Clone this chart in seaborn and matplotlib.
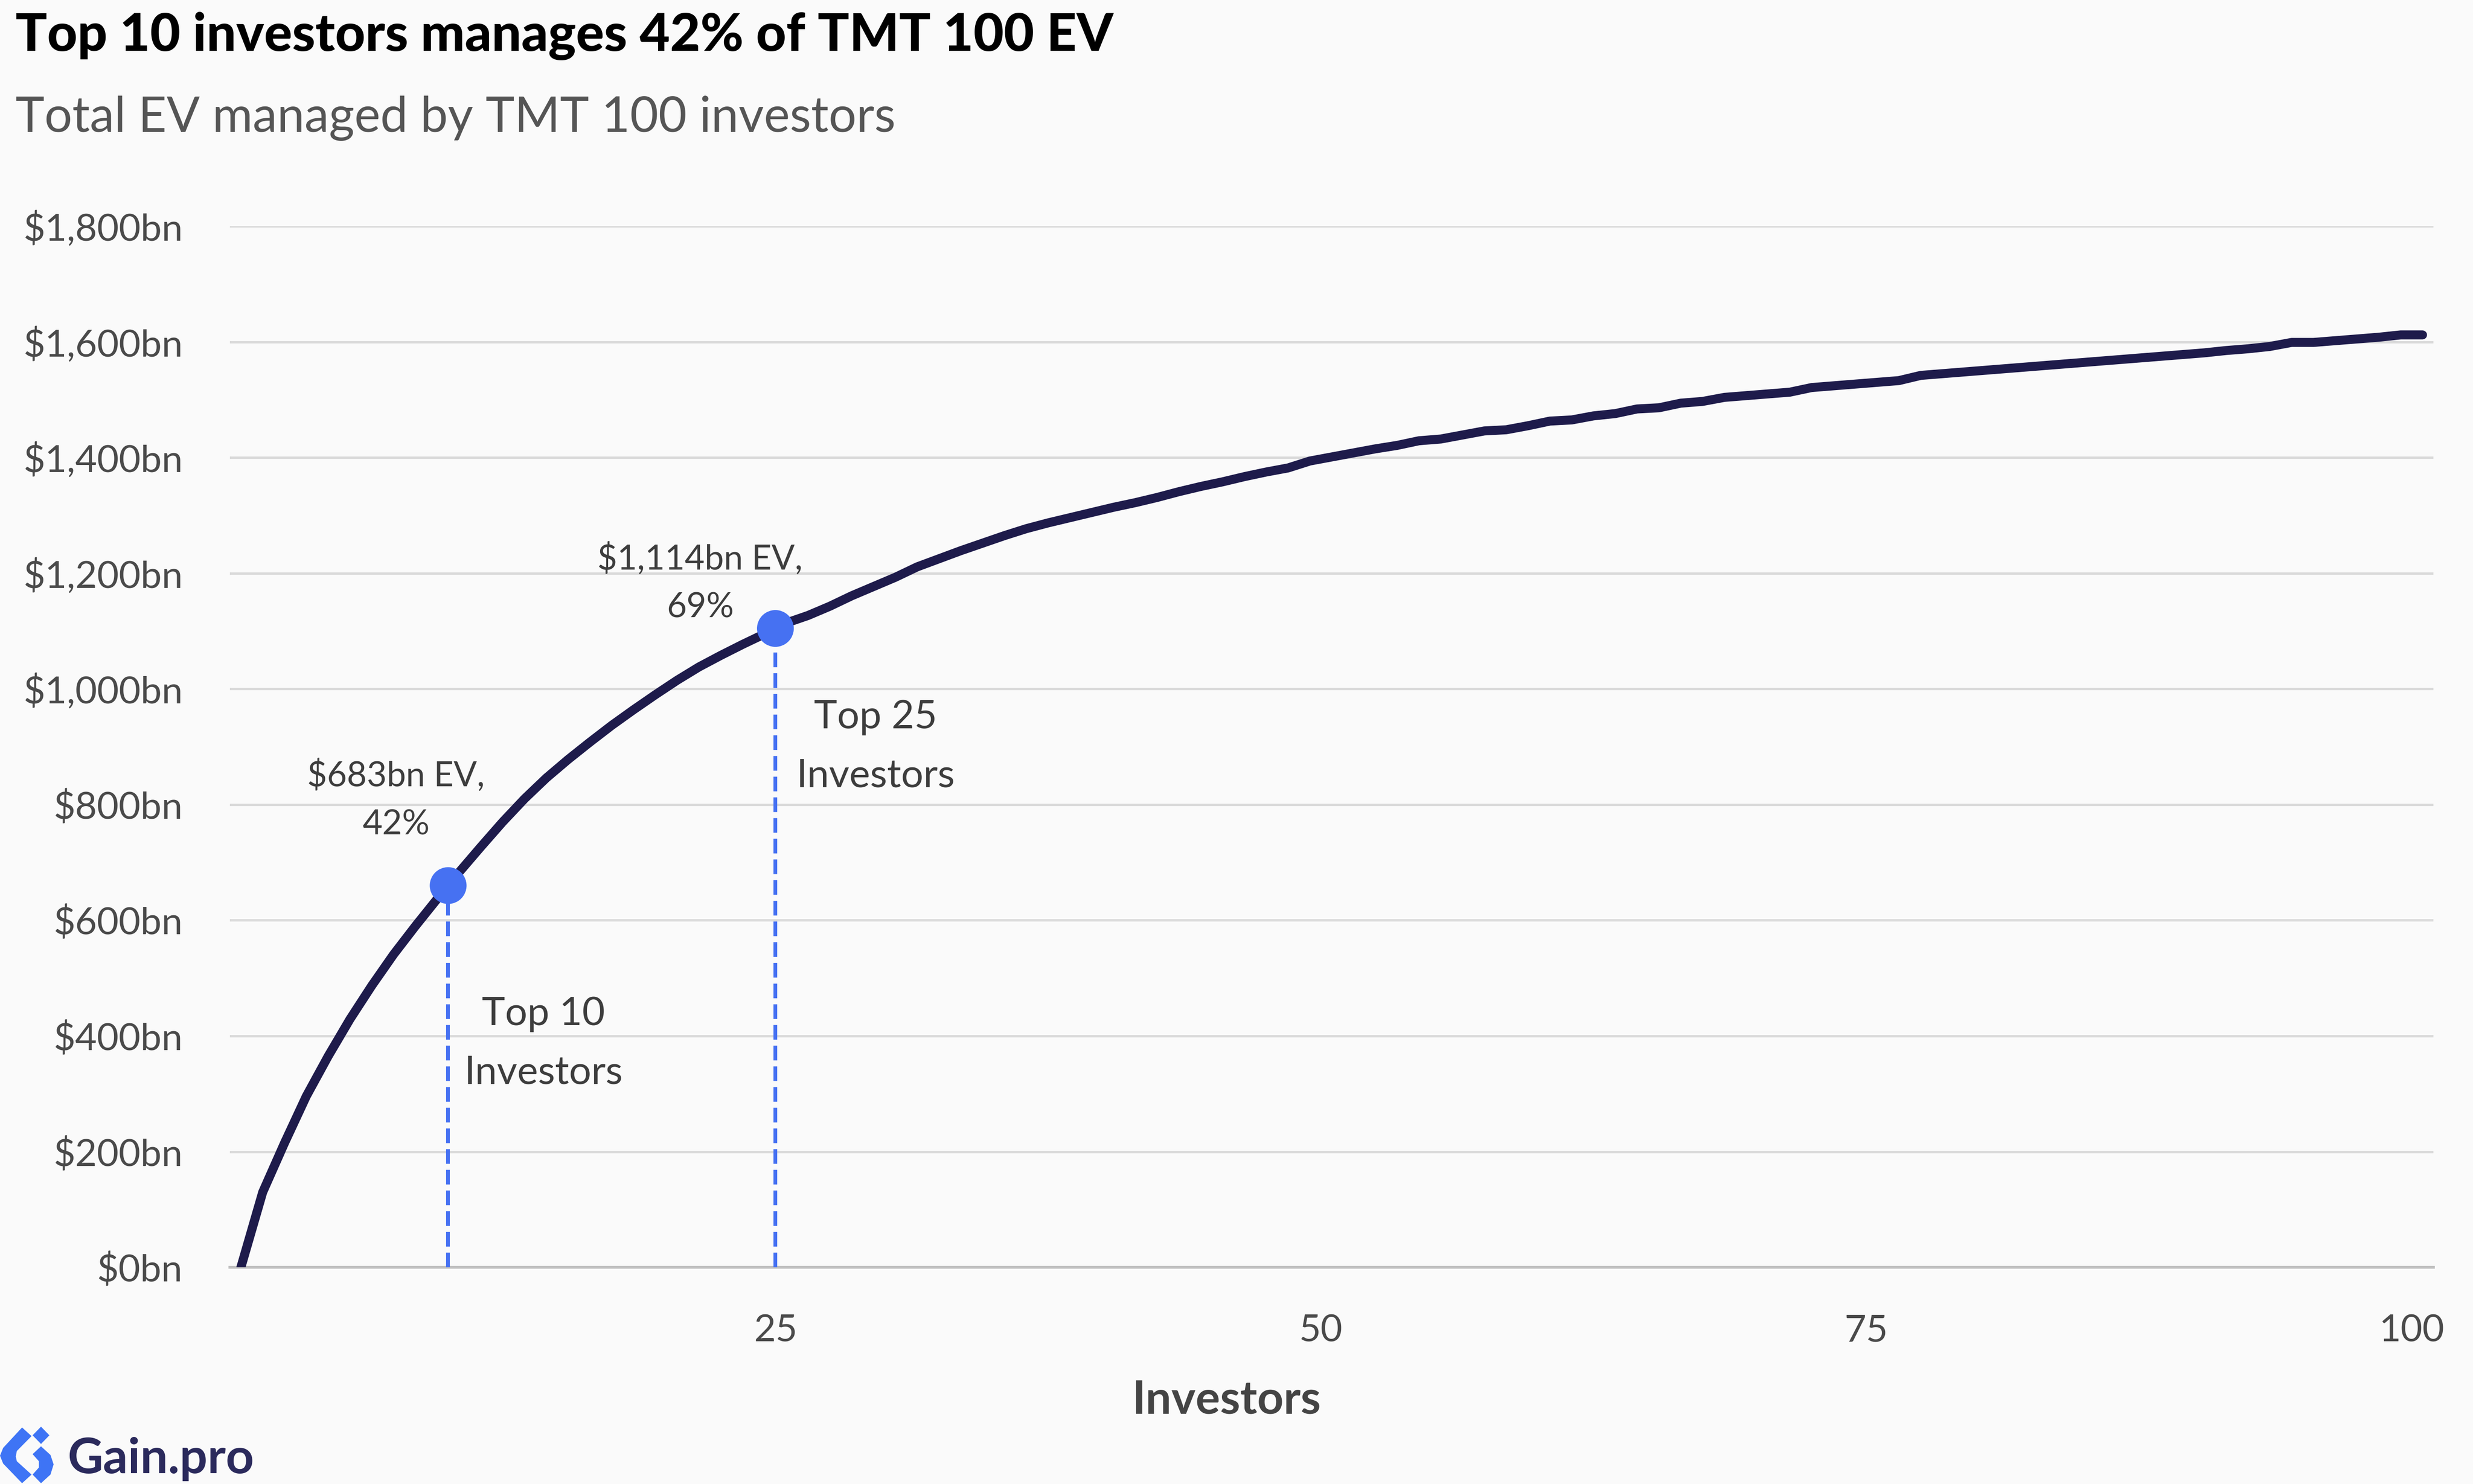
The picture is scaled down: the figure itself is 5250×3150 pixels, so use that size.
import numpy as np
import pandas as pd
import seaborn as sns
import matplotlib.pyplot as plt
from matplotlib.patches import Polygon

# cumulative EV ($bn) managed by the top-k investors, k = 0..100
cum_ev = [
    0, 130, 215, 296, 365, 429, 487, 541, 590, 637,
    683, 727, 770, 810, 846, 878, 908, 937, 964, 990,
    1015, 1038, 1058, 1077, 1095, 1114, 1127, 1143, 1161, 1177,
    1193, 1211, 1225, 1239, 1252, 1265, 1277, 1287, 1296, 1305,
    1314, 1322, 1331, 1341, 1350, 1358, 1367, 1375, 1382, 1394,
    1401, 1408, 1415, 1421, 1429, 1432, 1439, 1446, 1448, 1455,
    1463, 1465, 1472, 1476, 1484, 1486, 1494, 1497, 1504, 1507,
    1510, 1513, 1521, 1524, 1527, 1530, 1533, 1542, 1545, 1548,
    1551, 1554, 1557, 1560, 1563, 1566, 1569, 1572, 1575, 1578,
    1581, 1585, 1588, 1592, 1599, 1599, 1602, 1605, 1608, 1612,
    1612,
]
ranks = list(range(0, 101))

highlight_ranks = [10, 25]
value_labels = ["$683bn EV,\n42%", "$1,114bn EV,\n69%"]
top_labels = ["Top 10\nInvestors", "Top 25\nInvestors"]

y_ticks = [0, 200, 400, 600, 800, 1000, 1200, 1400, 1600, 1800]
x_ticks = list(range(0, 101, 5))
x_labelled = [25, 50, 75, 100]

NAVY = "#1e1b4b"
BLUE = "#4671f2"
GRID = "#dadada"
AXIS = "#c0c0c0"
TXT = "#4a4a4a"
BG = "#fafafa"

sns.set_style("white")
plt.rcParams["font.family"] = ["Lato", "DejaVu Sans"]

fig = plt.figure(figsize=(21, 12.6), dpi=250, facecolor=BG)
ax = fig.add_axes([0.093, 0.146, 0.891, 0.7016])
ax.set_facecolor(BG)

# points sit in the middle of each rank, like the source chart
df = pd.DataFrame({"pos": np.array(ranks) + 0.5, "ev": cum_ev})
sns.lineplot(data=df, x="pos", y="ev", ax=ax, color=NAVY, lw=5.5,
             solid_capstyle="round", solid_joinstyle="round", zorder=3)

dot_y = np.interp(highlight_ranks, df["pos"], df["ev"])
ax.vlines(highlight_ranks, 0, dot_y, colors=BLUE, lw=2.3,
          linestyles=(0, (3.9, 1.6)), zorder=4)
sns.scatterplot(x=highlight_ranks, y=dot_y, ax=ax, s=506, color=BLUE,
                edgecolor="none", zorder=5, legend=False)

ax.set_xlim(0, 101)
ax.set_ylim(0, 1800)
ax.set_xticks(x_ticks)
ax.set_xticklabels([str(t) if t in x_labelled else "" for t in x_ticks])
ax.set_yticks(y_ticks)
ax.set_yticklabels([f"${v:,}bn" for v in y_ticks])
ax.tick_params(axis="x", length=8.6, width=1.7, color=AXIS, pad=20,
               labelsize=23, labelcolor=TXT)
ax.tick_params(axis="y", length=0, pad=29, labelsize=23, labelcolor=TXT)
ax.set_xlabel("")
ax.set_ylabel("")

ax.yaxis.grid(True, color=GRID, lw=1.45)
ax.xaxis.grid(False)
ax.set_axisbelow(True)
for side in ["top", "right", "left"]:
    ax.spines[side].set_visible(False)
ax.spines["bottom"].set_color(AXIS)
ax.spines["bottom"].set_linewidth(1.7)

# annotations
ann_pos = [(7.6, 808), (21.55, 1183)]
for (x, y), lab in zip(ann_pos, value_labels):
    ax.text(x, y, lab, ha="center", va="center", fontsize=21, color="#3d3d3d",
            linespacing=1.65)
top_pos = [(14.36, 387), (29.6, 900)]
for (x, y), lab in zip(top_pos, top_labels):
    ax.text(x, y, lab, ha="center", va="center", fontsize=24, color="#3d3d3d",
            linespacing=1.8)

fig.text(0.496, 0.0476, "Investors", ha="center", va="baseline", fontsize=28,
         fontweight="bold", color="#444444")

fig.text(33 / 5250, 1 - 108 / 3150, "Top 10 investors manages 42% of TMT 100 EV",
         ha="left", va="baseline", fontsize=32, fontweight="black", color="black")
fig.text(33 / 5250, 1 - 280 / 3150, "Total EV managed by TMT 100 investors",
         ha="left", va="baseline", fontsize=30, fontweight="normal", color="#555555")

# Gain.pro logo
def logo_shape(pts):
    xy = [(zx / 2.24 / 5250, 1 - (2950 + zy / 3) / 3150) for zx, zy in pts]
    fig.add_artist(Polygon(xy, closed=True, transform=fig.transFigure,
                           facecolor="#3e74f5", edgecolor="none"))

logo_shape([(105, 240), (150, 295), (80, 390), (75, 425), (80, 455), (150, 540),
            (105, 595), (15, 470), (0, 420), (15, 370)])
logo_shape([(195, 235), (235, 290), (195, 345), (155, 290)])
logo_shape([(195, 360), (240, 415), (255, 475), (240, 540), (195, 595), (155, 540),
            (185, 495), (185, 455), (155, 410)])
fig.text(143 / 5250, 1 - 3127 / 3150, "Gain.pro", ha="left", va="baseline",
         fontsize=30, fontweight="bold", color="#2b2a5c")

fig.savefig("out.png", dpi=250, facecolor=BG)
